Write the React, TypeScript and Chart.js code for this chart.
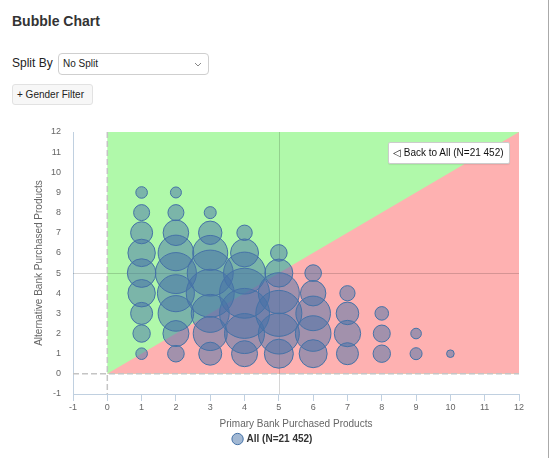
import React, { useEffect, useRef } from "react";
import { Chart, registerables } from "chart.js";

Chart.register(...registerables);

// ---- data ----
const primaryProducts = [1, 2, 3, 4, 5, 6, 7, 8, 9, 10];
const alternativeProducts = [1, 2, 3, 4, 5, 6, 7, 8, 9];
// bubble radius (px) per primary-products column, for alternative products 1, 2, 3, ...
const radiiPrimary1 = [5.8, 8.7, 11, 13.7, 14.3, 13.7, 11, 8, 5.8];
const radiiPrimary2 = [8.3, 13, 17.8, 18.5, 20.5, 17.8, 12.8, 8, 5.5];
const radiiPrimary3 = [11.5, 17, 19, 24, 23, 17.5, 11.7, 6];
const radiiPrimary4 = [13, 20, 25, 25, 21, 14, 7.7];
const radiiPrimary5 = [14.5, 20.5, 23, 20.5, 14, 8.3];
const radiiPrimary6 = [14, 17.8, 17.3, 12.7, 8.3];
const radiiPrimary7 = [11, 13.2, 11.3, 7.6];
const radiiPrimary8 = [8.7, 8.5, 6.8];
const radiiPrimary9 = [6, 5.3];
const radiiPrimary10 = [3.8];
const radiiByColumn = [
  radiiPrimary1, radiiPrimary2, radiiPrimary3, radiiPrimary4, radiiPrimary5,
  radiiPrimary6, radiiPrimary7, radiiPrimary8, radiiPrimary9, radiiPrimary10,
];
const seriesLabel = "All (N=21 452)";
const axisMin = -1;
const axisMax = 12;
const zoneMax = 12;
const meanLine = 5;

const FONT = "'Liberation Sans', Arial, Helvetica, sans-serif";
const GREEN = "#b0f9aa";
const RED = "#feb1b1";

const zonesPlugin = {
  id: "zones",
  beforeDatasetsDraw(chart: any) {
    const { ctx, chartArea, scales } = chart;
    const xs = scales.x;
    const ys = scales.y;
    const px = (v: number) => xs.getPixelForValue(v);
    const py = (v: number) => ys.getPixelForValue(v);
    ctx.save();
    // green band
    ctx.fillStyle = GREEN;
    ctx.fillRect(px(0), py(zoneMax), px(zoneMax) - px(0), py(0) - py(zoneMax));
    // red triangle below diagonal
    ctx.fillStyle = RED;
    ctx.beginPath();
    ctx.moveTo(px(0), py(0));
    ctx.lineTo(px(zoneMax), py(0));
    ctx.lineTo(px(zoneMax), py(zoneMax));
    ctx.closePath();
    ctx.fill();
    // dashed zero lines
    ctx.strokeStyle = "#c4c4c4";
    ctx.lineWidth = 1.5;
    ctx.setLineDash([6, 3]);
    ctx.beginPath();
    ctx.moveTo(px(0), chartArea.top);
    ctx.lineTo(px(0), chartArea.bottom);
    ctx.moveTo(chartArea.left, py(0));
    ctx.lineTo(chartArea.right, py(0));
    ctx.stroke();
    // solid mean lines
    ctx.setLineDash([]);
    ctx.strokeStyle = "rgba(0,0,0,0.16)";
    ctx.lineWidth = 1;
    const mx = Math.round(px(meanLine)) + 0.5;
    const my = Math.round(py(meanLine)) + 0.5;
    ctx.beginPath();
    ctx.moveTo(mx, chartArea.top);
    ctx.lineTo(mx, chartArea.bottom);
    ctx.moveTo(chartArea.left, my);
    ctx.lineTo(chartArea.right, my);
    ctx.stroke();
    ctx.restore();
  },
};

function BubbleChart() {
  const ref = useRef<HTMLCanvasElement | null>(null);
  useEffect(() => {
    if (!ref.current) return;
    const points: { x: number; y: number; r: number }[] = [];
    radiiByColumn.forEach((col, i) => {
      col.forEach((r, j) => {
        points.push({ x: primaryProducts[i], y: alternativeProducts[j], r });
      });
    });
    const chart = new Chart(ref.current, {
      type: "bubble",
      data: {
        datasets: [
          {
            label: seriesLabel,
            data: points,
            backgroundColor: "rgba(69,114,167,0.5)",
            borderColor: "#4572A7",
            borderWidth: 1,
            hoverRadius: 0,
          } as any,
        ],
      },
      options: {
        responsive: false,
        animation: false,
        devicePixelRatio: 1,
        events: [],
        layout: { padding: { top: 32, right: 26, bottom: 4, left: 27 } },
        plugins: {
          tooltip: { enabled: false },
          legend: {
            position: "bottom",
            labels: {
              usePointStyle: true,
              pointStyle: "circle",
              boxWidth: 8,
              boxHeight: 8,
              padding: 4,
              color: "#333",
              font: { size: 10, weight: "bold", family: FONT },
            },
          },
        },
        scales: {
          x: {
            type: "linear",
            min: axisMin,
            max: axisMax,
            ticks: {
              stepSize: 1,
              autoSkip: false,
              maxRotation: 0,
              color: "#666",
              padding: 1,
              font: { size: 9, family: FONT },
            },
            grid: {
              display: true,
              drawOnChartArea: false,
              drawTicks: true,
              tickLength: 7,
              color: "#C0D0E0",
            },
            border: { display: true, color: "#C0D0E0" },
            title: {
              display: true,
              text: "Primary Bank Purchased Products",
              color: "#666",
              font: { size: 10, family: FONT },
              padding: { top: 0, bottom: 0 },
            },
            afterFit: (s: any) => {
              s.height = 36;
            },
          },
          y: {
            type: "linear",
            min: axisMin,
            max: axisMax,
            ticks: {
              stepSize: 1,
              color: "#666",
              padding: 12,
              font: { size: 9, family: FONT },
            },
            grid: { display: false, drawTicks: false },
            border: { display: true, color: "#C0D0E0" },
            title: {
              display: true,
              text: "Alternative Bank Purchased Products",
              color: "#666",
              font: { size: 10, family: FONT },
              padding: { top: 6, bottom: 0 },
            },
            afterFit: (s: any) => {
              s.width = 46;
            },
          },
        },
      } as any,
      plugins: [zonesPlugin],
    });
    return () => chart.destroy();
  }, []);
  return (
    <canvas
      ref={ref}
      width={545}
      height={358}
      style={{ position: "absolute", left: 0, top: 100, width: 545, height: 358 }}
    />
  );
}

export default function App() {
  return (
    <div
      style={{
        position: "absolute",
        left: 0,
        top: 0,
        width: 550,
        height: 458,
        background: "#fff",
        fontFamily: FONT,
        color: "#333",
        overflow: "hidden",
      }}
    >
      <div
        style={{
          position: "absolute",
          left: 12,
          top: 13,
          fontSize: 14,
          lineHeight: "16px",
          fontWeight: "bold",
          color: "#333",
        }}
      >
        Bubble Chart
      </div>
      <div
        style={{
          position: "absolute",
          left: 12,
          top: 56,
          fontSize: 12,
          lineHeight: "14px",
          color: "#222",
        }}
      >
        Split By
      </div>
      <div
        style={{
          position: "absolute",
          left: 58,
          top: 53,
          width: 151,
          height: 22,
          boxSizing: "border-box",
          border: "1px solid #cfcfcf",
          borderRadius: 4,
          background: "#fff",
        }}
      >
        <span
          style={{
            position: "absolute",
            left: 4,
            top: 0,
            fontSize: 10,
            lineHeight: "20px",
            color: "#222",
          }}
        >
          No Split
        </span>
        <svg
          width="8"
          height="5"
          style={{ position: "absolute", right: 6, top: 8 }}
        >
          <polyline points="1,1 4,4 7,1" fill="none" stroke="#888" strokeWidth="1" />
        </svg>
      </div>
      <div
        style={{
          position: "absolute",
          left: 12,
          top: 84,
          width: 81,
          height: 21,
          boxSizing: "border-box",
          border: "1px solid #e2e2e2",
          borderRadius: 3,
          background: "#f7f7f7",
          fontSize: 10,
          lineHeight: "19px",
          paddingLeft: 4,
          color: "#222",
        }}
      >
        + Gender Filter
      </div>
      <BubbleChart />
      <div
        style={{
          position: "absolute",
          left: 388,
          top: 142,
          width: 122,
          height: 22,
          boxSizing: "border-box",
          border: "1px solid #cccccc",
          borderRadius: 2,
          background: "#fff",
          boxShadow: "0 1px 1px rgba(0,0,0,0.08)",
          fontSize: 10,
          lineHeight: "20px",
          paddingLeft: 4,
          color: "#111",
          whiteSpace: "nowrap",
        }}
      >
        ◁ Back to All (N=21 452)
      </div>
      <div
        style={{
          position: "absolute",
          left: 548,
          top: 0,
          width: 1,
          height: 458,
          background: "#aaa",
        }}
      />
    </div>
  );
}
